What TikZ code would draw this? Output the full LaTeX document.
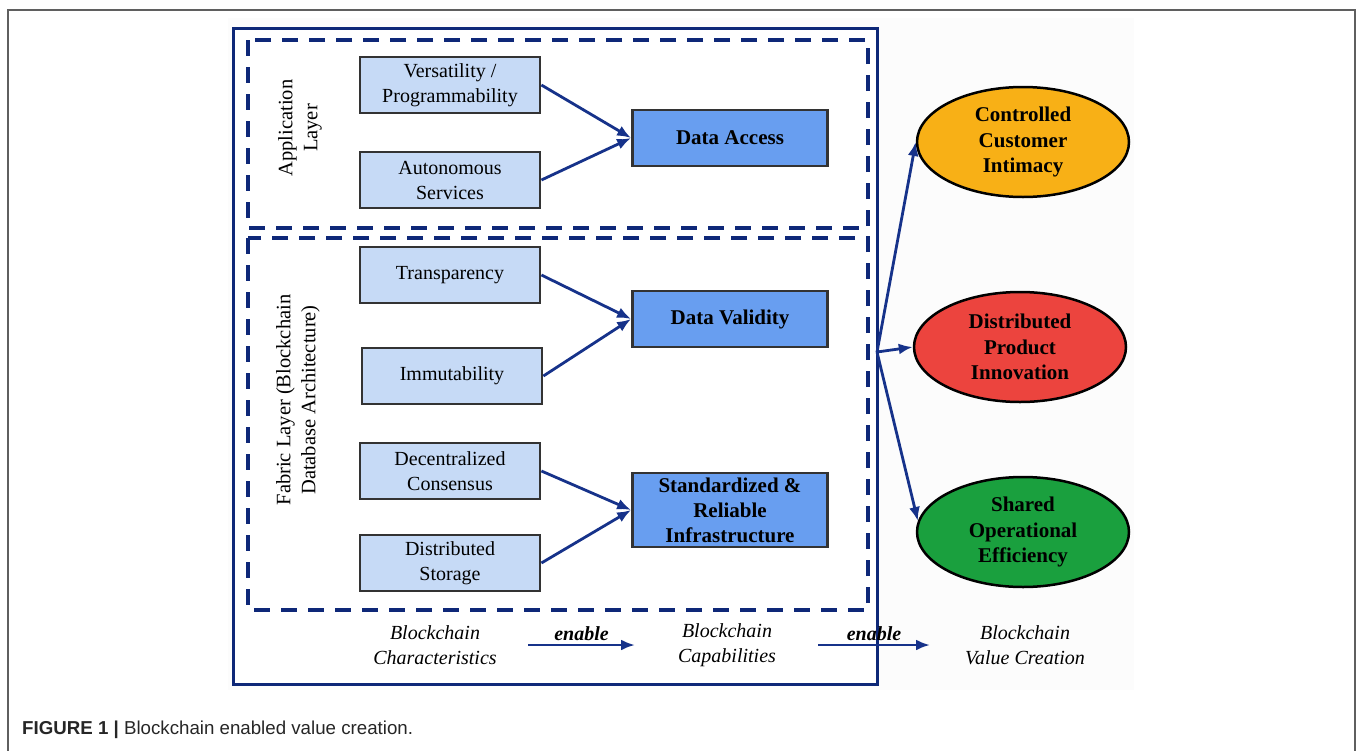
\documentclass[tikz,border=0pt]{standalone}
\usepackage{fontspec}
\setmainfont{Liberation Serif}
\newfontfamily\capfont{Liberation Sans}
\usetikzlibrary{arrows.meta,shapes.geometric}

\definecolor{ccnavy}{RGB}{14,40,120}
\definecolor{ccarrow}{RGB}{22,50,138}
\definecolor{cclight}{RGB}{198,218,246}
\definecolor{ccblue}{RGB}{104,158,240}
\definecolor{ccorange}{RGB}{248,176,22}
\definecolor{ccred}{RGB}{236,68,62}
\definecolor{ccgreen}{RGB}{26,160,62}
\definecolor{ccframe}{RGB}{95,95,95}

\begin{document}
\begin{tikzpicture}[x=1pt, y=-1pt,
  trait/.style={draw=black!80, line width=2.8pt, fill=cclight, minimum width=180pt, minimum height=56pt, align=center, font=\fontsize{20}{25}\selectfont},
  capab/.style={draw=black!80, line width=2.8pt, fill=ccblue, minimum width=195pt, minimum height=56pt, inner xsep=2pt, inner ysep=4.5pt, align=center, font=\fontsize{21}{25}\selectfont\bfseries},
  value/.style={ellipse, draw=black, line width=2.5pt, inner sep=0pt, minimum width=212pt, minimum height=110pt, align=center, font=\fontsize{21}{25.5}\selectfont\bfseries},
  link/.style={ccarrow, line width=2.8pt, -{Latex[length=14pt,width=11pt]}},
  layer/.style={ccnavy, line width=4.5pt, dash pattern=on 16pt off 11pt},
  legend/.style={align=center, font=\fontsize{20}{25}\selectfont\itshape}
]

\useasboundingbox (0,0) rectangle (1357,750);

% Page frame and figure background
\draw[ccframe, line width=1.5pt] (8,760) -- (8,10) -- (1355,10) -- (1355,760);
\fill[black!1.2] (228,18) rectangle (1134,690);

% Coordinates of the points to work
\coordinate (hub) at (877,352);
\coordinate (e1s) at (528,645);
\coordinate (e1e) at (635,645);
\coordinate (e2s) at (818,645);
\coordinate (e2e) at (930,645);

% Frames of the layers
\draw[ccnavy, line width=3pt, fill=white] (233,28) rectangle (877,684);
\draw[layer] (248,40) rectangle (868,228);
\draw[layer] (248,238) rectangle (868,610);

\node[rotate=90, align=center, font=\fontsize{20.5}{25}\selectfont] (applbl) at (300,128) {Application\\Layer};
\node[rotate=90, align=center, font=\fontsize{20.5}{25}\selectfont] (fabriclbl) at (298,400) {Fabric Layer (Blockchain\\Database Architecture)};

%%%%%%%%%% Characteristics %%%%%%%%%%
\node[trait] (vers) at (450,85) {Versatility /\\Programmability};
\node[trait] (auton) at (450,180) {Autonomous\\Services};
\node[trait] (transp) at (450,275) {Transparency};
\node[trait] (immut) at (452,376) {Immutability};
\node[trait] (decent) at (450,471) {Decentralized\\Consensus};
\node[trait] (storage) at (450,563) {Distributed\\Storage};

%%%%%%%%%% Capabilities %%%%%%%%%%
\node[capab] (access) at (730,138) {Data Access};
\node[capab] (validity) at (730,319) {Data Validity};
\node[capab] (infra) at (730,510) {Standardized \&\\Reliable\\Infrastructure};

%%%%%%%%%% Value creation %%%%%%%%%%
\node[value, fill=ccorange] (cci) at (1023,142) {Controlled\\Customer\\Intimacy};
\node[value, fill=ccred] (dpi) at (1020,347) {Distributed\\Product\\Innovation};
\node[value, fill=ccgreen] (soe) at (1023,532) {Shared\\Operational\\Efficiency};

% Links
\foreach \src/\dst in {vers/access, auton/access, transp/validity, immut/validity, decent/infra, storage/infra}
{
    \draw[link] (\src.east) -- (\dst.west);
}
\draw[link] (hub) -- (cci.west);
\draw[link] (hub) -- (dpi.west);
\draw[link] (hub) -- (soe.174);

% Legend
\node[legend] (chars) at (435,645) {Blockchain\\Characteristics};
\node[legend] (caps) at (727,645) {Blockchain\\Capabilities};
\node[legend] (valcre) at (1025,645) {Blockchain\\Value Creation};
\draw[link] (e1s) -- (e1e) node[midway, above, black, font=\fontsize{20}{25}\selectfont\bfseries\itshape] (en1) {enable};
\draw[link] (e2s) -- (e2e) node[midway, above, black, font=\fontsize{20}{25}\selectfont\bfseries\itshape] (en2) {enable};

% Caption
\node[anchor=base west, inner sep=0pt, text=black!85, font=\capfont\fontsize{18.7}{22}\selectfont] (caption) at (22,734) {{\bfseries FIGURE 1 |} Blockchain enabled value creation.};

\end{tikzpicture}
\end{document}
